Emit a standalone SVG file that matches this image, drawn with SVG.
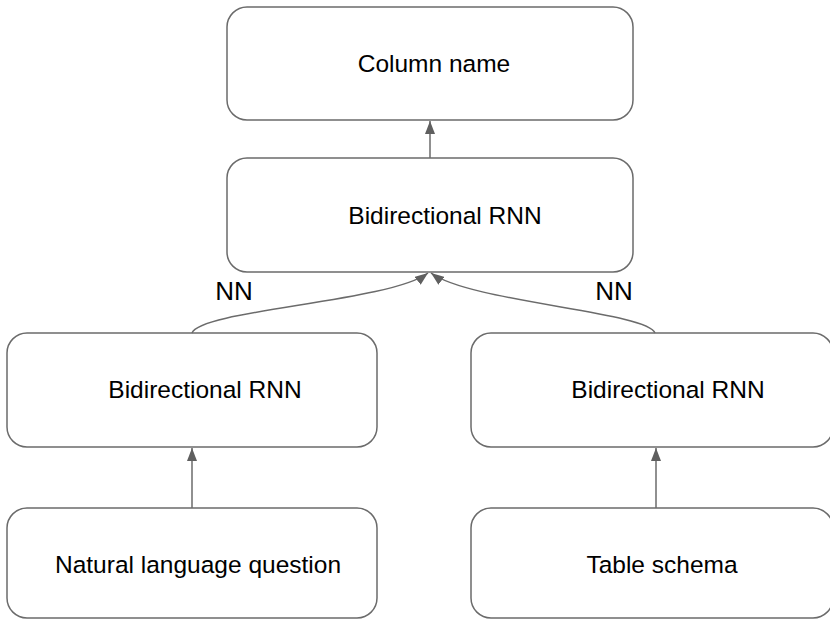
<svg xmlns="http://www.w3.org/2000/svg" width="830" height="620" viewBox="0 0 830 620">
<style>
.box{fill:#fff;stroke:#6b6b6b;stroke-width:1.5}
.lbl{font-family:"Liberation Sans",Arial,sans-serif;font-size:24.5px;fill:#000;text-anchor:middle}
.nn{font-family:"Liberation Sans",Arial,sans-serif;font-size:26px;fill:#000;text-anchor:middle}
.edge{fill:none;stroke:#6b6b6b;stroke-width:1.5}
</style>
<defs>
<marker id="ah" viewBox="0 0 13 10" refX="13" refY="5" markerWidth="13" markerHeight="10" markerUnits="userSpaceOnUse" orient="auto">
<path d="M0,0 L13,5 L0,10 z" fill="#5f5f5f"/>
</marker>
</defs>
<rect width="830" height="620" fill="#fff"/>
<g id="column-name"><rect class="box" x="227" y="7" width="406" height="113" rx="20"/><text class="lbl" x="434" y="72">Column name</text></g>
<g id="birnn-top"><rect class="box" x="227" y="158" width="406" height="114" rx="20"/><text class="lbl" x="445" y="224">Bidirectional RNN</text></g>
<g id="birnn-left"><rect class="box" x="7" y="333" width="370" height="114" rx="20"/><text class="lbl" x="205" y="398">Bidirectional RNN</text></g>
<g id="birnn-right"><rect class="box" x="471" y="333" width="362" height="114" rx="20"/><text class="lbl" x="668" y="398">Bidirectional RNN</text></g>
<g id="nl-question"><rect class="box" x="7" y="508" width="370" height="110" rx="20"/><text class="lbl" x="198" y="573">Natural language question</text></g>
<g id="table-schema"><rect class="box" x="471" y="508" width="362" height="110" rx="20"/><text class="lbl" x="662" y="573">Table schema</text></g>
<g id="connectors">
<path class="edge" d="M430,158 L430,121" marker-end="url(#ah)"/>
<path class="edge" d="M192,508 L192,448" marker-end="url(#ah)"/>
<path class="edge" d="M656,508 L656,448" marker-end="url(#ah)"/>
<path class="edge" d="M192,333 C200,310 390,302 428,273" marker-end="url(#ah)"/>
<path class="edge" d="M655,333 C648,312 470,302 431,273" marker-end="url(#ah)"/>
<text class="nn" x="234" y="300">NN</text>
<text class="nn" x="614" y="300">NN</text>
</g>
</svg>
